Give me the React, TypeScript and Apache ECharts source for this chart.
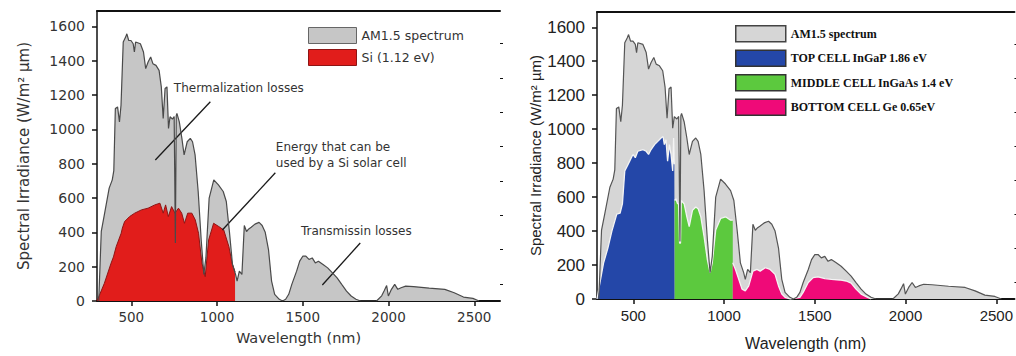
import React, { useEffect, useRef } from "react";
import * as echarts from "echarts";

// AM1.5 spectrum (shared by both panels): wavelength (nm) and irradiance (W/m² µm)
const am15Wl = [310, 325, 343, 371, 389, 398, 407, 420, 431, 440, 453, 467, 474, 485, 498, 511, 518, 525, 553, 571, 584, 598, 613, 626, 644, 662, 675, 686, 697, 708, 717, 726, 740, 750, 757, 762, 766, 780, 795, 808, 826, 844, 857, 872, 890, 908, 923, 935, 954, 981, 1008, 1036, 1054, 1072, 1090, 1108, 1117, 1130, 1145, 1159, 1172, 1185, 1199, 1221, 1245, 1263, 1281, 1300, 1318, 1336, 1363, 1382, 1400, 1418, 1436, 1464, 1482, 1500, 1518, 1536, 1555, 1573, 1591, 1618, 1645, 1673, 1700, 1727, 1755, 1782, 1810, 1837, 1930, 1960, 1974, 1989, 1999, 2017, 2036, 2054, 2073, 2100, 2146, 2237, 2328, 2383, 2437, 2492, 2528];
const am15Val = [0, 406, 503, 658, 706, 760, 1122, 1131, 1044, 1141, 1509, 1538, 1557, 1518, 1518, 1499, 1451, 1509, 1499, 1451, 1354, 1393, 1422, 1383, 1373, 1344, 1248, 1064, 1238, 1248, 1006, 1074, 1060, 1075, 338, 1080, 1093, 1044, 948, 851, 928, 948, 928, 851, 638, 350, 155, 251, 600, 706, 677, 638, 580, 406, 213, 155, 116, 174, 155, 440, 405, 420, 430, 448, 458, 440, 400, 300, 116, 39, 10, 0, 10, 39, 97, 174, 232, 261, 262, 242, 251, 222, 232, 213, 193, 164, 135, 97, 58, 29, 10, 0, 0, 30, 58, 90, 29, 68, 97, 68, 77, 87, 84, 75, 68, 48, 23, 15, 0];

// Left panel: Si (1.12 eV) usable part
const siWl = [300, 343, 382, 396, 412, 441, 448, 461, 490, 520, 559, 598, 637, 667, 686, 700, 716, 735, 755, 775, 794, 810, 829, 853, 873, 892, 912, 931, 951, 980, 1010, 1039, 1069, 1088, 1105];
const siVal = [0, 103, 220, 257, 317, 395, 425, 463, 492, 512, 531, 541, 560, 570, 512, 560, 492, 550, 512, 541, 512, 453, 512, 512, 473, 395, 220, 142, 356, 453, 434, 414, 317, 220, 170];

// Right panel: triple-junction sub-cells
const topWl = [300, 336, 360, 382, 409, 427, 440, 453, 467, 480, 498, 511, 525, 553, 571, 584, 598, 617, 635, 653, 664, 671, 680, 689, 699, 708, 717, 722, 726, 728];
const topVal = [0, 211, 300, 400, 500, 505, 560, 754, 783, 812, 851, 832, 870, 880, 870, 851, 880, 909, 928, 948, 957, 909, 938, 812, 909, 851, 754, 948, 793, 793];
const midWl = [728, 735, 744, 750, 755, 760, 764, 771, 780, 795, 808, 826, 844, 857, 872, 890, 908, 923, 935, 954, 981, 1008, 1036, 1048];
const midVal = [580, 590, 561, 560, 329, 329, 580, 571, 561, 484, 426, 522, 542, 532, 484, 367, 232, 155, 213, 406, 474, 484, 464, 464];
const botWl = [1048, 1063, 1081, 1099, 1117, 1136, 1159, 1181, 1199, 1227, 1254, 1281, 1300, 1318, 1336, 1363, 1418, 1436, 1464, 1491, 1518, 1555, 1591, 1637, 1673, 1700, 1727, 1755, 1791, 1810];
const botVal = [213, 174, 116, 58, 48, 77, 164, 174, 164, 184, 174, 145, 77, 29, 10, 0, 10, 39, 97, 126, 130, 120, 116, 112, 106, 93, 58, 29, 10, 0];

// Ticks
const xTickValues = [500, 1000, 1500, 2000, 2500];
const xMinorTickValues = [750, 1250, 1750, 2250];
const yTickValues = [0, 200, 400, 600, 800, 1000, 1200, 1400, 1600];
const yMinorTickValues = [100, 300, 500, 700, 900, 1100, 1300, 1500];

// Left panel annotations: [text, wavelength, irradiance]
const annTexts = ["Thermalization losses", "Energy that can be\nused by a Si solar cell", "Transmissin losses"];
const annWl = [745, 1340, 1486];
const annVal = [1242, 852, 408];
// Arrows: from (wl, val) to (wl, val)
const arrowFromWl = [961, 1340, 1835];
const arrowFromVal = [1161, 747, 338];
const arrowToWl = [640, 1031, 1614];
const arrowToVal = [822, 414, 93];

const leftLegend = ["AM1.5 spectrum", "Si (1.12 eV)"];
const rightLegend = ["AM1.5 spectrum", "TOP CELL InGaP 1.86 eV", "MIDDLE CELL InGaAs 1.4 eV", "BOTTOM CELL Ge 0.65eV"];

const zip = (xs: number[], ys: number[]) => xs.map((x, i) => [x, ys[i]]);
const plain = (v: number) => String(v);

const LFONT = "DejaVu Sans";
const RFONT = "Liberation Sans, Arial, sans-serif";

export default function App() {
  const ref = useRef<HTMLDivElement>(null);
  useEffect(() => {
    if (!ref.current) return;
    const chart = echarts.init(ref.current, undefined, { renderer: "svg" });

    const mainX = (gridIndex: number, max: number, font: string, size: number, color: string, nameSize: number, nameGap: number) => ({
      type: "value",
      gridIndex,
      min: 300,
      max,
      position: "bottom",
      name: "Wavelength (nm)",
      nameLocation: "middle",
      nameGap,
      nameTextStyle: { fontFamily: font, fontSize: nameSize, color },
      axisLine: { show: true, onZero: false, lineStyle: { color: "#111", width: 2 } },
      axisTick: { show: true, inside: false, length: 5, customValues: xTickValues, lineStyle: { color: "#111", width: 1.5 } },
      axisLabel: { show: true, customValues: xTickValues, formatter: plain, margin: 9, fontFamily: font, fontSize: size, color },
      splitLine: { show: false },
    });
    const minorX = (gridIndex: number, max: number) => ({
      type: "value",
      gridIndex,
      min: 300,
      max,
      position: "bottom",
      axisLine: { show: false, onZero: false },
      axisTick: { show: true, inside: true, length: 4, customValues: xMinorTickValues, lineStyle: { color: "#111", width: 1.5 } },
      axisLabel: { show: false },
      splitLine: { show: false },
    });
    const topX = (gridIndex: number, max: number) => ({
      type: "value",
      gridIndex,
      min: 300,
      max,
      position: "top",
      axisLine: { show: true, onZero: false, lineStyle: { color: "#111", width: 2 } },
      axisTick: { show: false },
      axisLabel: { show: false },
      splitLine: { show: false },
    });
    const mainY = (gridIndex: number, font: string, size: number, color: string, nameFont: string, nameSize: number, nameGap: number) => ({
      type: "value",
      gridIndex,
      min: 0,
      max: 1690,
      name: "Spectral Irradiance (W/m² µm)",
      nameLocation: "middle",
      nameGap,
      nameTextStyle: { fontFamily: nameFont, fontSize: nameSize, color },
      axisLine: { show: true, lineStyle: { color: "#111", width: 1.5 } },
      axisTick: { show: true, length: 5, customValues: yTickValues, lineStyle: { color: "#111", width: 1.5 } },
      axisLabel: { show: true, customValues: yTickValues, formatter: plain, margin: 12, fontFamily: font, fontSize: size, color },
      splitLine: { show: false },
    });
    const minorY = (gridIndex: number) => ({
      type: "value",
      gridIndex,
      min: 0,
      max: 1690,
      axisLine: { show: false },
      axisTick: { show: true, length: 3, customValues: yMinorTickValues, lineStyle: { color: "#111", width: 1 } },
      axisLabel: { show: false },
      splitLine: { show: false },
    });

    const area = (name: string, xi: number, yi: number, data: number[][], fill: string, line: string, lw: number, z: number, extra: any = {}) => ({
      type: "line",
      name,
      xAxisIndex: xi,
      yAxisIndex: yi,
      data,
      symbol: "none",
      color: fill,
      z,
      lineStyle: { color: line, width: lw },
      areaStyle: { color: fill, opacity: 1 },
      silent: true,
      ...extra,
    });
    const outline = (xi: number, yi: number, color: string) => ({
      type: "line",
      name: "AM1.5 outline",
      xAxisIndex: xi,
      yAxisIndex: yi,
      data: zip(am15Wl, am15Val),
      symbol: "none",
      z: 5,
      lineStyle: { color, width: 1.2 },
      silent: true,
    });

    const option: any = {
      animation: false,
      backgroundColor: "#ffffff",
      grid: [
        { left: 97, top: 11, width: 403, height: 290 },
        { left: 597, top: 12, width: 420, height: 291 },
      ],
      xAxis: [
        mainX(0, 2650, LFONT, 13.5, "#333", 14.5, 29),
        minorX(0, 2650),
        topX(0, 2650),
        mainX(1, 2600, RFONT, 15, "#222", 16, 36),
        minorX(1, 2600),
        topX(1, 2600),
      ],
      yAxis: [
        mainY(0, LFONT, 14, "#333", LFONT, 15, 66),
        minorY(0),
        mainY(1, RFONT, 17, "#222", RFONT, 15, 52),
        minorY(1),
      ],
      legend: [
        {
          orient: "vertical",
          left: 303,
          top: 22,
          itemWidth: 48,
          itemHeight: 16,
          itemGap: 5,
          icon: "rect",
          selectedMode: false,
          textStyle: { fontFamily: LFONT, fontSize: 12.5, color: "#333" },
          data: [
            { name: leftLegend[0], itemStyle: { color: "#c6c6c6", borderColor: "#666", borderWidth: 1 } },
            { name: leftLegend[1], itemStyle: { color: "#e11d1b", borderColor: "#8e1414", borderWidth: 1 } },
          ],
        },
        {
          orient: "vertical",
          left: 730,
          top: 20,
          itemWidth: 50,
          itemHeight: 16,
          itemGap: 7,
          icon: "rect",
          selectedMode: false,
          textStyle: { fontFamily: "Liberation Serif, serif", fontWeight: "bold", fontSize: 12, color: "#111" },
          data: [
            { name: rightLegend[0], itemStyle: { color: "#d6d6d6", borderColor: "#444", borderWidth: 1.5 } },
            { name: rightLegend[1], itemStyle: { color: "#2447a8", borderColor: "#333", borderWidth: 1.5 } },
            { name: rightLegend[2], itemStyle: { color: "#5cc93e", borderColor: "#333", borderWidth: 1.5 } },
            { name: rightLegend[3], itemStyle: { color: "#ef0a78", borderColor: "#333", borderWidth: 1.5 } },
          ],
        },
      ],
      series: [
        area(leftLegend[0], 0, 0, zip(am15Wl, am15Val), "#c6c6c6", "#c6c6c6", 0, 1, {
          markLine: {
            silent: true,
            symbol: ["none", "arrow"],
            symbolSize: [0, 7],
            lineStyle: { color: "#1a1a1a", width: 1.3, type: "solid" },
            label: { show: false },
            data: arrowFromWl.map((w, i) => [
              { coord: [w, arrowFromVal[i]] },
              { coord: [arrowToWl[i], arrowToVal[i]] },
            ]),
          },
          markPoint: {
            silent: true,
            symbol: "circle",
            symbolSize: 1,
            itemStyle: { color: "rgba(0,0,0,0)" },
            label: {
              show: true,
              position: "right",
              distance: 0,
              formatter: "{b}",
              fontFamily: LFONT,
              fontSize: 12,
              lineHeight: 16,
              align: "left",
              color: "#333",
            },
            data: annTexts.map((t, i) => ({ name: t, coord: [annWl[i], annVal[i]] })),
          },
        }),
        area(leftLegend[1], 0, 0, zip(siWl, siVal), "#e11d1b", "#8e1414", 1, 2),
        outline(0, 0, "#4a4a4a"),
        area(rightLegend[0], 3, 2, zip(am15Wl, am15Val), "#d6d6d6", "#d6d6d6", 0, 1),
        area(rightLegend[1], 3, 2, zip(topWl, topVal), "#2447a8", "#f4f4f4", 1.3, 2),
        area(rightLegend[2], 3, 2, zip(midWl, midVal), "#5cc93e", "#f4f4f4", 1.3, 2),
        area(rightLegend[3], 3, 2, zip(botWl, botVal), "#ef0a78", "#f4f4f4", 1.3, 2),
        outline(3, 2, "#555555"),
      ],
    };
    chart.setOption(option);
    return () => chart.dispose();
  }, []);
  return <div ref={ref} style={{ position: "absolute", left: 0, top: 0, width: 1016, height: 356, background: "#fff" }} />;
}
